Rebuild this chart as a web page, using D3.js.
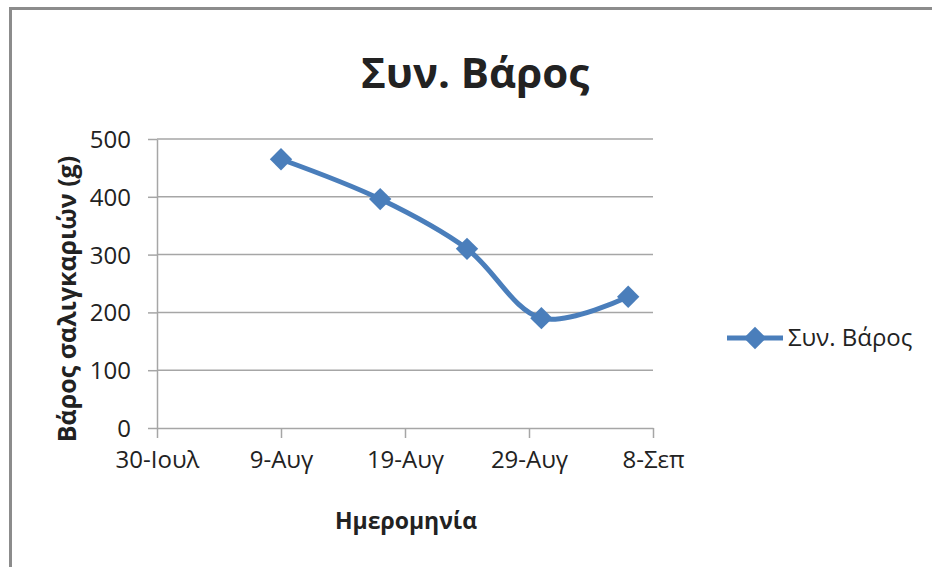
<!DOCTYPE html>
<head>
    <meta charset="UTF-8">
    <title>Συν. Βάρος</title>
</head>
<style>
    body { margin: 0; background: #fff; }
    svg text { font-family: "Open Sans", "Noto Sans", sans-serif; fill: #222; }
    .grid line { stroke: #a6a6a6; stroke-width: 1.5; }
    .axis .domain, .axis .tick line { stroke: #a6a6a6; stroke-width: 1.5; }
</style>
<body>
<script src="https://d3js.org/d3.v7.min.js"></script>
<script>
    // data
    var dates = ["2012-08-09", "2012-08-17", "2012-08-24", "2012-08-30", "2012-09-06"];
    var weights = [465, 396, 310, 190, 227];
    var xTicks = ["2012-07-30", "2012-08-09", "2012-08-19", "2012-08-29", "2012-09-08"];
    var yTicks = [0, 100, 200, 300, 400, 500];
    var months = ["Ιαν", "Φεβ", "Μαρ", "Απρ", "Μαϊ", "Ιουν", "Ιουλ", "Αυγ", "Σεπ", "Οκτ", "Νοε", "Δεκ"];
    var seriesName = "Συν. Βάρος";

    var W = 932, H = 567;
    var plot = {left: 157, right: 653, top: 139, bottom: 428};

    var parse = d3.utcParse("%Y-%m-%d");
    var points = dates.map(function(d, i) { return {date: parse(d), value: weights[i]}; });

    var x = d3.scaleUtc()
        .domain([parse(xTicks[0]), parse(xTicks[xTicks.length - 1])])
        .range([plot.left, plot.right]);
    var y = d3.scaleLinear().domain([0, 500]).range([plot.bottom, plot.top]);

    var svg = d3.select("body").append("svg")
        .attr("width", W)
        .attr("height", H);

    // outer chart frame
    svg.append("rect")
        .attr("x", 10.5).attr("y", 8.5)
        .attr("width", 1000).attr("height", 1000)
        .attr("fill", "#fff")
        .attr("stroke", "#8c8c8c")
        .attr("stroke-width", 3);

    // horizontal gridlines
    svg.append("g")
        .attr("class", "grid")
        .selectAll("line")
        .data(yTicks.slice(1))
        .enter().append("line")
        .attr("x1", plot.left).attr("x2", plot.right)
        .attr("y1", function(d) { return y(d); })
        .attr("y2", function(d) { return y(d); });

    // y axis
    svg.append("g")
        .attr("class", "axis")
        .attr("transform", "translate(" + plot.left + ",0)")
        .call(d3.axisLeft(y).tickValues(yTicks).tickSize(9).tickSizeOuter(0).tickPadding(17))
        .selectAll("text")
        .attr("font-size", 24)
        .attr("dy", "0.35em");

    // x axis
    var fmt = function(d) { return d.getUTCDate() + "-" + months[d.getUTCMonth()]; };
    svg.append("g")
        .attr("class", "axis")
        .attr("transform", "translate(0," + plot.bottom + ")")
        .call(d3.axisBottom(x).tickValues(xTicks.map(parse)).tickFormat(fmt).tickSize(10).tickSizeOuter(0).tickPadding(13))
        .selectAll("text")
        .attr("font-size", 24);

    // smoothed series line
    var line = d3.line()
        .x(function(d) { return x(d.date); })
        .y(function(d) { return y(d.value); })
        .curve(d3.curveCatmullRom.alpha(0.5));

    svg.append("path")
        .datum(points)
        .attr("fill", "none")
        .attr("stroke", "#4a7ebb")
        .attr("stroke-width", 5)
        .attr("stroke-linejoin", "round")
        .attr("d", line);

    var diamond = d3.symbol().type(d3.symbolSquare).size(250);
    svg.selectAll(".marker")
        .data(points)
        .enter().append("path")
        .attr("class", "marker")
        .attr("d", diamond)
        .attr("fill", "#4a7ebb")
        .attr("transform", function(d) { return "translate(" + x(d.date) + "," + y(d.value) + ") rotate(45)"; });

    // title
    svg.append("text")
        .attr("x", 475).attr("y", 88)
        .attr("text-anchor", "middle")
        .attr("font-size", 42)
        .attr("font-weight", "bold")
        .text(seriesName);

    // axis titles
    svg.append("text")
        .attr("transform", "translate(76," + 299 + ") rotate(-90)")
        .attr("text-anchor", "middle")
        .attr("font-size", 25)
        .attr("font-weight", "bold")
        .text("Βάρος σαλιγκαριών (g)");

    svg.append("text")
        .attr("x", 406).attr("y", 529)
        .attr("text-anchor", "middle")
        .attr("font-size", 23)
        .attr("font-weight", "bold")
        .text("Ημερομηνία");

    // legend
    var lg = svg.append("g").attr("transform", "translate(727,338)");
    lg.append("line")
        .attr("x1", 0).attr("x2", 56)
        .attr("stroke", "#4a7ebb").attr("stroke-width", 5);
    lg.append("path")
        .attr("d", diamond)
        .attr("fill", "#4a7ebb")
        .attr("transform", "translate(28,0) rotate(45)");
    lg.append("text")
        .attr("x", 61).attr("dy", "0.35em")
        .attr("font-size", 24)
        .text(seriesName);
</script>
